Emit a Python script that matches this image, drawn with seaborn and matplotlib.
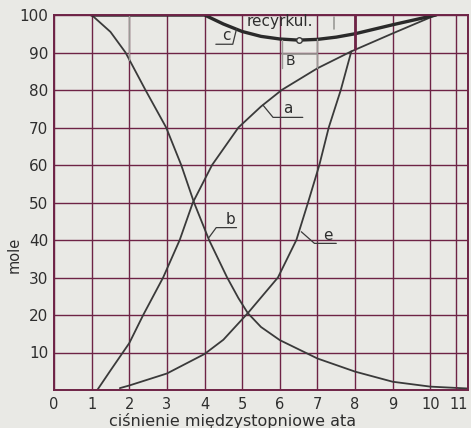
import matplotlib
matplotlib.use("Agg")
import matplotlib.pyplot as plt
import seaborn as sns
import pandas as pd

# curve a
a_x = [1.15, 1.5, 2.0, 2.37, 2.9, 3.34, 3.69, 4.2, 4.9, 5.5, 6.05, 7.0, 7.9, 9.0, 10.15]
a_y = [0, 5.2, 12.5, 20, 30, 40, 50, 60, 70, 75.6, 80, 85.8, 90.3, 95.1, 100]
# curve b
b_x = [1, 1.5, 1.9, 2.43, 2.98, 3.38, 3.72, 4.12, 4.6, 4.9, 5.15, 5.5, 6, 7, 8, 9, 10, 11]
b_y = [100, 95.5, 90, 80, 70, 60, 50, 40, 30, 24.5, 20.5, 16.8, 13.3, 8.4, 4.9, 2.2, 0.9, 0.4]
# curve e
e_x = [1.75, 2.0, 3.0, 4.0, 4.5, 5.15, 5.95, 6.44, 6.75, 7.05, 7.3, 7.62, 7.9]
e_y = [0.5, 1.2, 4.4, 9.6, 13.4, 20.5, 30, 40, 50, 60, 70, 80, 90.3]
# curve c (recycle)
c_x = [1, 4, 4.5, 5, 5.5, 6, 6.5, 7, 7.5, 8, 9, 10.15]
c_y = [100, 100, 97.6, 95.6, 94.3, 93.6, 93.3, 93.5, 94.1, 95.0, 97.4, 100]
c_min = (6.5, 93.3)

x_ticks = list(range(0, 12))
y_ticks = list(range(0, 101, 10))
y_tick_labels = [""] + [str(v) for v in y_ticks[1:]]

paper = "#e9e9e5"
grid_col = "#6e2346"
ink = "#3a3a3a"
text_col = "#2e2e2e"

sns.set_style("white")
plt.rcParams["font.family"] = ["DejaVu Sans"]

fig = plt.figure(figsize=(4.71, 4.28), dpi=100, facecolor=paper)
ax = fig.add_axes([54 / 471, 38 / 428, 414 / 471, 375 / 428])
ax.set_facecolor(paper)

df = pd.concat([
    pd.DataFrame({"x": a_x, "y": a_y, "k": "a"}),
    pd.DataFrame({"x": b_x, "y": b_y, "k": "b"}),
    pd.DataFrame({"x": e_x, "y": e_y, "k": "e"}),
])
sns.lineplot(data=df, x="x", y="y", units="k", estimator=None, sort=False,
             color=ink, linewidth=1.3, ax=ax, legend=False)
sns.lineplot(x=c_x, y=c_y, sort=False, estimator=None, color="#2a2a2a",
             linewidth=2.4, ax=ax, legend=False)
ax.plot([c_min[0]], [c_min[1]], marker="o", ms=4, mfc=paper, mec=ink, mew=1.0, zorder=5)

ax.set_xlim(0, 11)
ax.set_ylim(0, 100)
ax.set_xticks(x_ticks)
ax.set_yticks(y_ticks)
ax.set_yticklabels(y_tick_labels)
ax.grid(True, color=grid_col, linewidth=1.0)
ax.axvline(10.67, color=grid_col, linewidth=1.0)
ax.set_axisbelow(True)
for s in ax.spines.values():
    s.set_color(grid_col)
    s.set_linewidth(1.4)
ax.tick_params(axis="both", colors=grid_col, length=3, width=1.0, labelcolor=text_col)
ax.tick_params(axis="y", pad=1, labelsize=11)
ax.tick_params(axis="x", pad=2, labelsize=10.5)
ax.get_xticklabels()[-1].set_horizontalalignment("right")
ax.set_xlabel("")
ax.set_ylabel("")

# faint strokes near the top of the grid
faint = "#9a9a96"
ax.plot([2, 2], [100, 88], color=faint, lw=1.0)
ax.plot([6.05, 6.05], [93.3, 86], color=faint, lw=1.0)
ax.plot([7.0, 7.0], [93.5, 86], color=faint, lw=1.0)
ax.plot([6.05, 7.0], [89.6, 89.6], color=faint, lw=1.2)
ax.plot([7.45, 7.45], [96.2, 99.6], color=faint, lw=1.2)
ax.plot([8, 8], [100, 91], color=grid_col, lw=2.0)

# curve labels with leader lines
lab = dict(color=text_col, fontsize=11, ha="center", va="center")
ax.text(4.58, 94.4, "c", **lab)
ax.plot([4.3, 4.75, 4.85], [92.2, 92.2, 96.3], color=ink, lw=0.9)
ax.text(6.21, 75.0, "a", **lab)
ax.plot([5.55, 5.82, 6.61], [76.0, 72.7, 72.7], color=ink, lw=0.9)
ax.text(4.69, 45.6, "b", **lab)
ax.plot([4.12, 4.31, 4.85], [40.7, 43.3, 43.3], color=ink, lw=0.9)
ax.text(7.28, 41.3, "e", **lab)
ax.plot([6.57, 6.92, 7.5], [42.2, 39.1, 39.1], color=ink, lw=0.9)
ax.text(6.28, 87.7, "B", color=text_col, fontsize=10, ha="center", va="center")
ax.text(5.12, 97.0, "recyrkul.", color=text_col, fontsize=11, ha="left", va="baseline")

fig.text(14 / 471, 1 - 255 / 428, "mole", rotation=90, color=text_col,
         fontsize=10.5, ha="center", va="center")
fig.text(232.5 / 471, 1 - 421 / 428, "ciśnienie międzystopniowe ata",
         color=text_col, fontsize=11.5, ha="center", va="center")

fig.savefig("out.png", dpi=100, facecolor=paper)
